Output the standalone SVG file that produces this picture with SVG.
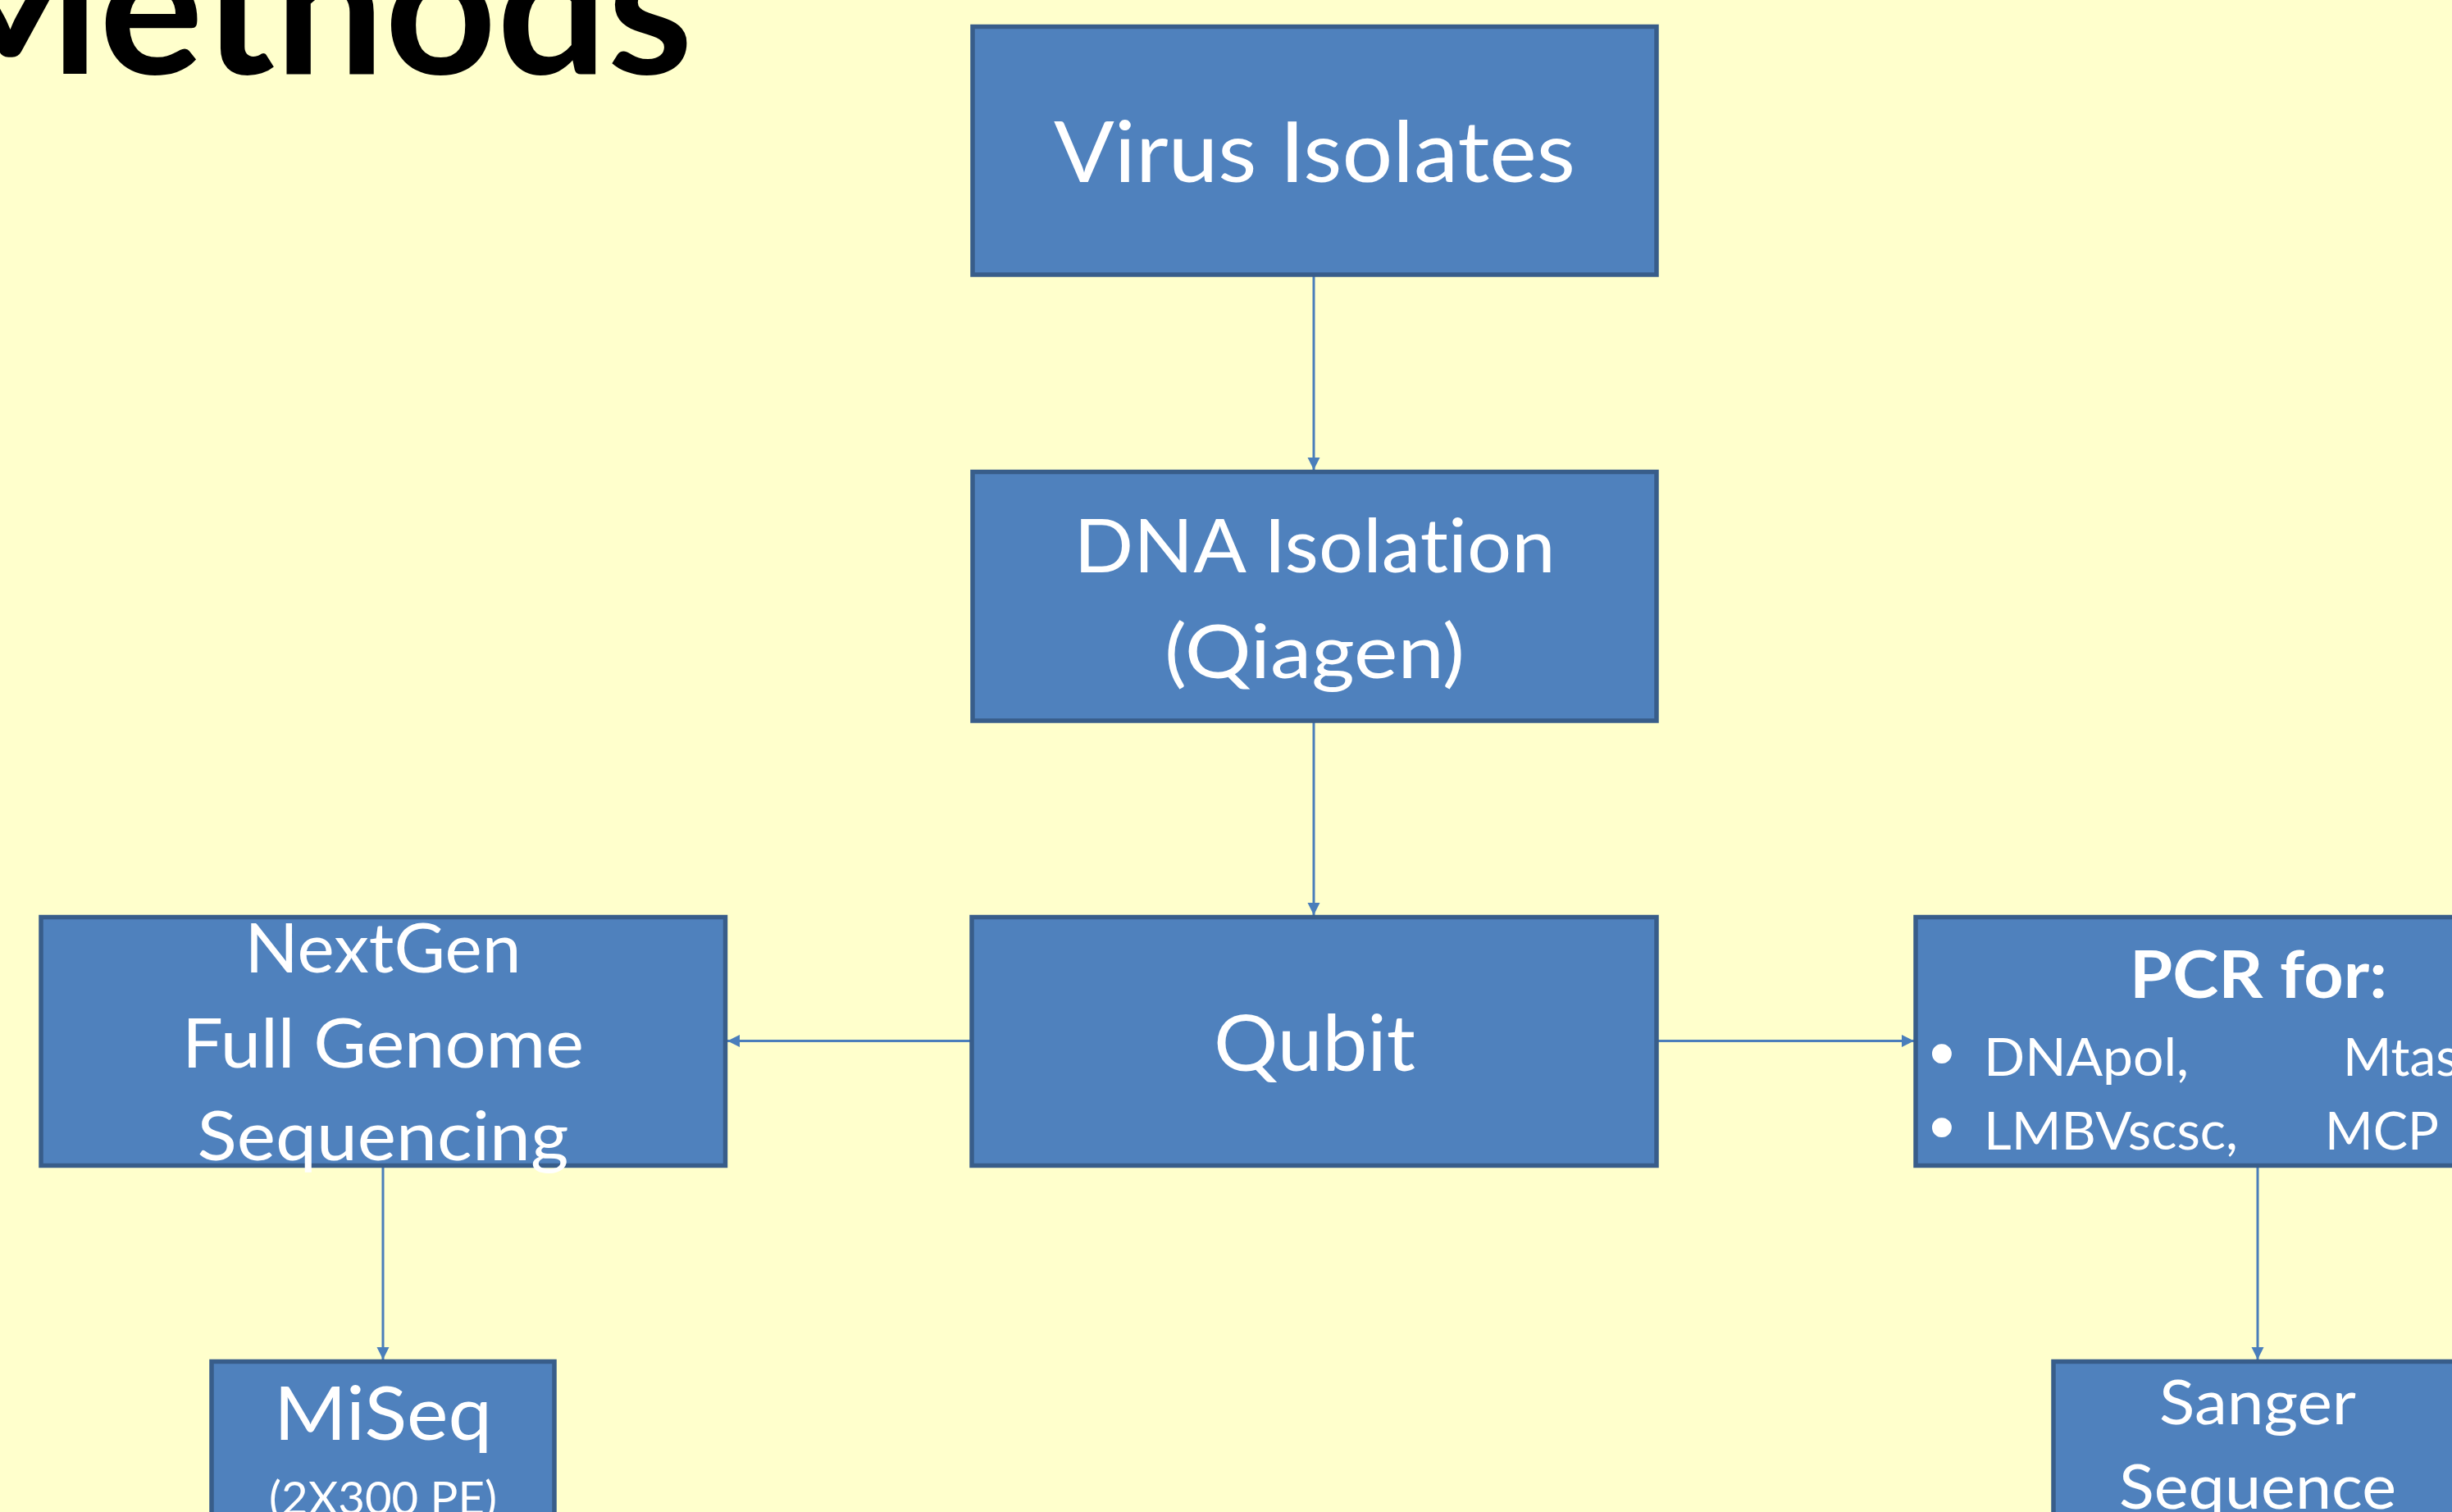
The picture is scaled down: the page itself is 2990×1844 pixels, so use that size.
<svg xmlns="http://www.w3.org/2000/svg" width="2990" height="1844" viewBox="0 0 2990 1844">
<style>
text{font-variant-ligatures:none}
.box{fill:#4f81bd;stroke:#385d8a;stroke-width:5.5}
.lbl{font-family:Lato,"Liberation Sans",sans-serif;fill:#ffffff;text-anchor:middle}
.lft{font-family:Lato,"Liberation Sans",sans-serif;fill:#ffffff}
.bul{font-family:"Liberation Sans",sans-serif;fill:#ffffff;text-anchor:middle}
.con{stroke:#4a7ebb;stroke-width:3;fill:none;marker-end:url(#arr)}
</style>
<defs>
<marker id="arr" markerUnits="userSpaceOnUse" markerWidth="16" markerHeight="16" refX="15" refY="7.5" orient="auto">
<path d="M0,0 L15,7.5 L0,15 Z" fill="#4a7ebb"/>
</marker>
</defs>
<rect x="0" y="0" width="2990" height="1844" fill="#ffffcc"/>
<text x="-100" y="89.5" font-family="Lato,'Liberation Sans',sans-serif" font-weight="bold" font-size="232" fill="#000000" textLength="945" lengthAdjust="spacingAndGlyphs">Methods</text>
<g id="connectors">
<line class="con" x1="1602" y1="335" x2="1602" y2="573"/>
<line class="con" x1="1602" y1="879" x2="1602" y2="1116"/>
<line class="con" x1="1185" y1="1269.5" x2="887" y2="1269.5"/>
<line class="con" x1="2020" y1="1269.5" x2="2334" y2="1269.5"/>
<line class="con" x1="467" y1="1421.5" x2="467" y2="1658"/>
<line class="con" x1="2753" y1="1421.5" x2="2753" y2="1658"/>
</g>
<g id="virus">
<rect class="box" x="1186" y="32.5" width="834" height="302.5"/>
<text class="lbl" x="1603" y="221.7" font-size="102.5" textLength="636" lengthAdjust="spacingAndGlyphs">Virus Isolates</text>
</g>
<g id="dna">
<rect class="box" x="1186" y="575.5" width="834" height="303.5"/>
<text class="lbl" x="1603" y="698" font-size="92" textLength="587" lengthAdjust="spacingAndGlyphs">DNA Isolation</text>
<text class="lbl" x="1603" y="826.7" font-size="92" textLength="366" lengthAdjust="spacingAndGlyphs">(Qiagen)</text>
</g>
<g id="qubit">
<rect class="box" x="1185" y="1118.5" width="835" height="303"/>
<text class="lbl" x="1603" y="1306" font-size="95" textLength="246" lengthAdjust="spacingAndGlyphs">Qubit</text>
</g>
<g id="nextgen">
<rect class="box" x="50" y="1118.5" width="834.5" height="303"/>
<text class="lbl" x="467" y="1186" font-size="83" textLength="337" lengthAdjust="spacingAndGlyphs">NextGen</text>
<text class="lbl" x="467" y="1301.7" font-size="83" textLength="490" lengthAdjust="spacingAndGlyphs">Full Genome</text>
<text class="lbl" x="467" y="1415" font-size="83" textLength="453" lengthAdjust="spacingAndGlyphs">Sequencing</text>
</g>
<g id="pcr">
<rect class="box" x="2336" y="1118.5" width="834" height="303"/>
<text class="lbl" x="2754" y="1216.7" font-size="80" font-weight="bold" textLength="314" lengthAdjust="spacingAndGlyphs">PCR for:</text>
<text class="bul" x="2368" y="1314" font-size="88">•</text>
<text class="lft" x="2419" y="1311.7" font-size="64" textLength="250" lengthAdjust="spacingAndGlyphs">DNApol,</text>
<text class="lft" x="2857" y="1311.7" font-size="64">Mtase</text>
<text class="bul" x="2368" y="1404" font-size="88">•</text>
<text class="lft" x="2419" y="1401.7" font-size="64" textLength="310" lengthAdjust="spacingAndGlyphs">LMBVscsc,</text>
<text class="lft" x="2835" y="1401.7" font-size="64" textLength="139" lengthAdjust="spacingAndGlyphs">MCP</text>
</g>
<g id="miseq">
<rect class="box" x="258" y="1660.5" width="418" height="303"/>
<text class="lbl" x="467" y="1756" font-size="92" textLength="266" lengthAdjust="spacingAndGlyphs">MiSeq</text>
<text class="lbl" x="467" y="1847" font-size="56" textLength="278" lengthAdjust="spacingAndGlyphs">(2X300 PE)</text>
</g>
<g id="sanger">
<rect class="box" x="2504" y="1660.5" width="498" height="303"/>
<text class="lbl" x="2753" y="1736.7" font-size="75" textLength="240" lengthAdjust="spacingAndGlyphs">Sanger</text>
<text class="lbl" x="2753" y="1840" font-size="75" textLength="338" lengthAdjust="spacingAndGlyphs">Sequence</text>
</g>
</svg>
